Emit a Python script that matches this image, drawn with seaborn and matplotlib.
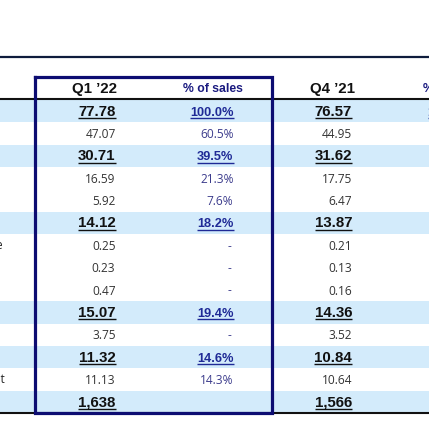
import matplotlib
matplotlib.use("Agg")
import matplotlib.pyplot as plt
import seaborn as sns
import numpy as np
import pandas as pd

# ---- data ----
row_labels = ["Sales", "Cost of sales", "Gross profit", "SG&A expenses", "R&D expenses",
              "Operating income", "Other income", "Other expenses", "Financial income",
              "Income before taxes", "Income taxes", "Net income",
              "Net income attributable to parent", "EPS"]
q1_22 = ["77.78", "47.07", "30.71", "16.59", "5.92", "14.12", "0.25", "0.23", "0.47",
         "15.07", "3.75", "11.32", "11.13", "1,638"]
q1_pct = ["100.0%", "60.5%", "39.5%", "21.3%", "7.6%", "18.2%", "-", "-", "-",
          "19.4%", "-", "14.6%", "14.3%", ""]
q4_21 = ["76.57", "44.95", "31.62", "17.75", "6.47", "13.87", "0.21", "0.13", "0.16",
         "14.36", "3.52", "10.84", "10.64", "1,566"]
q4_pct = ["100.0%"] + [""] * 13
highlight = [1, 0, 1, 0, 0, 1, 0, 0, 0, 1, 0, 1, 0, 1]
headers = ["Q1 \u201922", "% of sales", "Q4 \u201921", "% of sales"]

W, H = 429, 430
fig = plt.figure(figsize=(W / 100, H / 100), dpi=100)
fig.patch.set_facecolor("white")

top_y, bot_y = 100.0, 413.0
n = len(q1_22)
rh = (bot_y - top_y) / n

# banded rows via seaborn heatmap
band_ax = fig.add_axes([0, (H - bot_y) / H, 1, (bot_y - top_y) / H])
band_df = pd.DataFrame({"band": highlight})
sns.heatmap(band_df, ax=band_ax, cmap=sns.color_palette(["#ffffff", "#d3ebfb"], as_cmap=True),
            cbar=False, vmin=0, vmax=1, xticklabels=False, yticklabels=False, linewidths=0)
band_ax.set_axis_off()

ax = fig.add_axes([0, 0, 1, 1])
ax.set_xlim(0, W)
ax.set_ylim(H, 0)
ax.set_axis_off()
ax.patch.set_alpha(0)

REG = "Open Sans"
BOLD = "Liberation Sans"
navy = "#1b1b80"
box_col = "#0d0d72"

# lines
ax.plot([0, W], [57, 57], color="#0e1c3c", lw=1.6, solid_capstyle="butt")
ax.plot([0, W], [98.8, 98.8], color="#111111", lw=1.5, solid_capstyle="butt")
ax.plot([0, W], [413, 413], color="#111111", lw=1.5, solid_capstyle="butt")

# headers
hdr_y = 89
ax.text(95, hdr_y, headers[0], ha="center", va="center", fontsize=10.8,
        fontweight="bold", color="#111111", family=BOLD)
ax.text(213, hdr_y, headers[1], ha="center", va="center", fontsize=8.8,
        fontweight="bold", color=navy, family=BOLD)
ax.text(333, hdr_y, headers[2], ha="center", va="center", fontsize=10.8,
        fontweight="bold", color="#111111", family=BOLD)
ax.text(453, hdr_y, headers[3], ha="center", va="center", fontsize=8.8,
        fontweight="bold", color=navy, family=BOLD)

# label fragments (left column mostly cropped)
for i, lab in enumerate(row_labels):
    xr = {6: 3.0, 12: 4.5}.get(i)
    if xr is None:
        continue
    ax.text(xr, top_y + rh * (i + 0.5) + 4, lab, ha="right", va="baseline",
            fontsize=8.5, color="#222222", family=REG)

underline_texts = []
cols = [(115.5, q1_22, False), (233.5, q1_pct, True), (352, q4_21, False), (471, q4_pct, True)]
for xr, vals, is_pct in cols:
    for i, v in enumerate(vals):
        if not v:
            continue
        yb = top_y + rh * (i + 0.5) + 4.5
        bold = bool(highlight[i]) and v != "-"
        if is_pct:
            color = "#1f2a96" if bold else "#3c3c8c"
            fs = 9.2 if bold else 8.6
            xx = xr - 2 if v == "-" else xr
        else:
            color = "#111111" if bold else "#333333"
            fs = 10.8 if bold else 8.6
            xx = xr
        t = ax.text(xx, yb, v, ha="right", va="baseline", fontsize=fs,
                    fontweight="bold" if bold else "normal", color=color,
                    family=BOLD if bold else REG)
        if bold:
            underline_texts.append((t, yb, color))

fig.canvas.draw()
renderer = fig.canvas.get_renderer()
inv = ax.transData.inverted()
for t, yb, color in underline_texts:
    bb = t.get_window_extent(renderer)
    (x0, _), (x1, _) = inv.transform([[bb.x0, bb.y0], [bb.x1, bb.y1]])
    ax.plot([x0, x1], [yb + 2.2, yb + 2.2], color=color, lw=1.0, solid_capstyle="butt")

# highlight box around Q1 '22 columns
ax.plot([35, 272, 272, 35, 35], [76.5, 76.5, 412.5, 412.5, 76.5], color=box_col, lw=2.3,
        solid_joinstyle="miter")

fig.savefig("out.png", dpi=100)
